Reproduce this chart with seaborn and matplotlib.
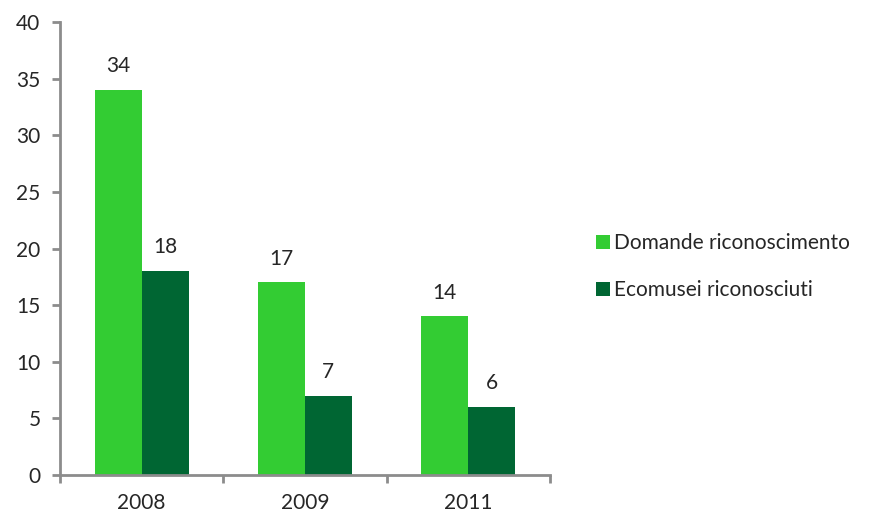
import pandas as pd
import seaborn as sns
import matplotlib.pyplot as plt
from matplotlib.ticker import FixedLocator

years = ['2008', '2009', '2011']
domande = [34, 17, 14]
ecomusei = [18, 7, 6]
series_names = ['Domande riconoscimento', 'Ecomusei riconosciuti']

df = pd.DataFrame({
    'anno': years * 2,
    'valore': domande + ecomusei,
    'serie': [series_names[0]] * 3 + [series_names[1]] * 3,
})

sns.set_style('white')
plt.rcParams['font.family'] = ['Lato', 'DejaVu Sans']

fig = plt.figure(figsize=(8.74, 5.18), dpi=100)
ax = fig.add_axes([0.0686, 0.083, 0.5606, 0.8745])

sns.barplot(data=df, x='anno', y='valore', hue='serie',
            palette=['#33CC33', '#006633'], width=0.575, saturation=1,
            ax=ax, edgecolor='none')

for c in ax.containers:
    ax.bar_label(c, padding=10, fontsize=15)

ax.set_xlim(-0.5, 2.5)
ax.set_ylim(0, 40)
ax.set_yticks(range(0, 41, 5))
ax.set_xlabel('')
ax.set_ylabel('')

grey = '#8c8c8c'
for s in ['top', 'right']:
    ax.spines[s].set_visible(False)
for s in ['left', 'bottom']:
    ax.spines[s].set_color(grey)
    ax.spines[s].set_linewidth(2)

ax.tick_params(axis='y', direction='out', length=6, width=2, color=grey,
               labelsize=15, left=True, pad=8)
ax.tick_params(axis='x', which='major', length=0, labelsize=15, pad=13)
ax.xaxis.set_minor_locator(FixedLocator([-0.5, 0.5, 1.5, 2.5]))
ax.tick_params(axis='x', which='minor', direction='out', length=6, width=2,
               color=grey, bottom=True)

ax.legend(loc='center left', bbox_to_anchor=(1.055, 0.46), frameon=False,
          fontsize=15, handlelength=0.7, handleheight=0.7, handletextpad=0.2,
          labelspacing=1.3)

fig.savefig('out.png', dpi=100)
